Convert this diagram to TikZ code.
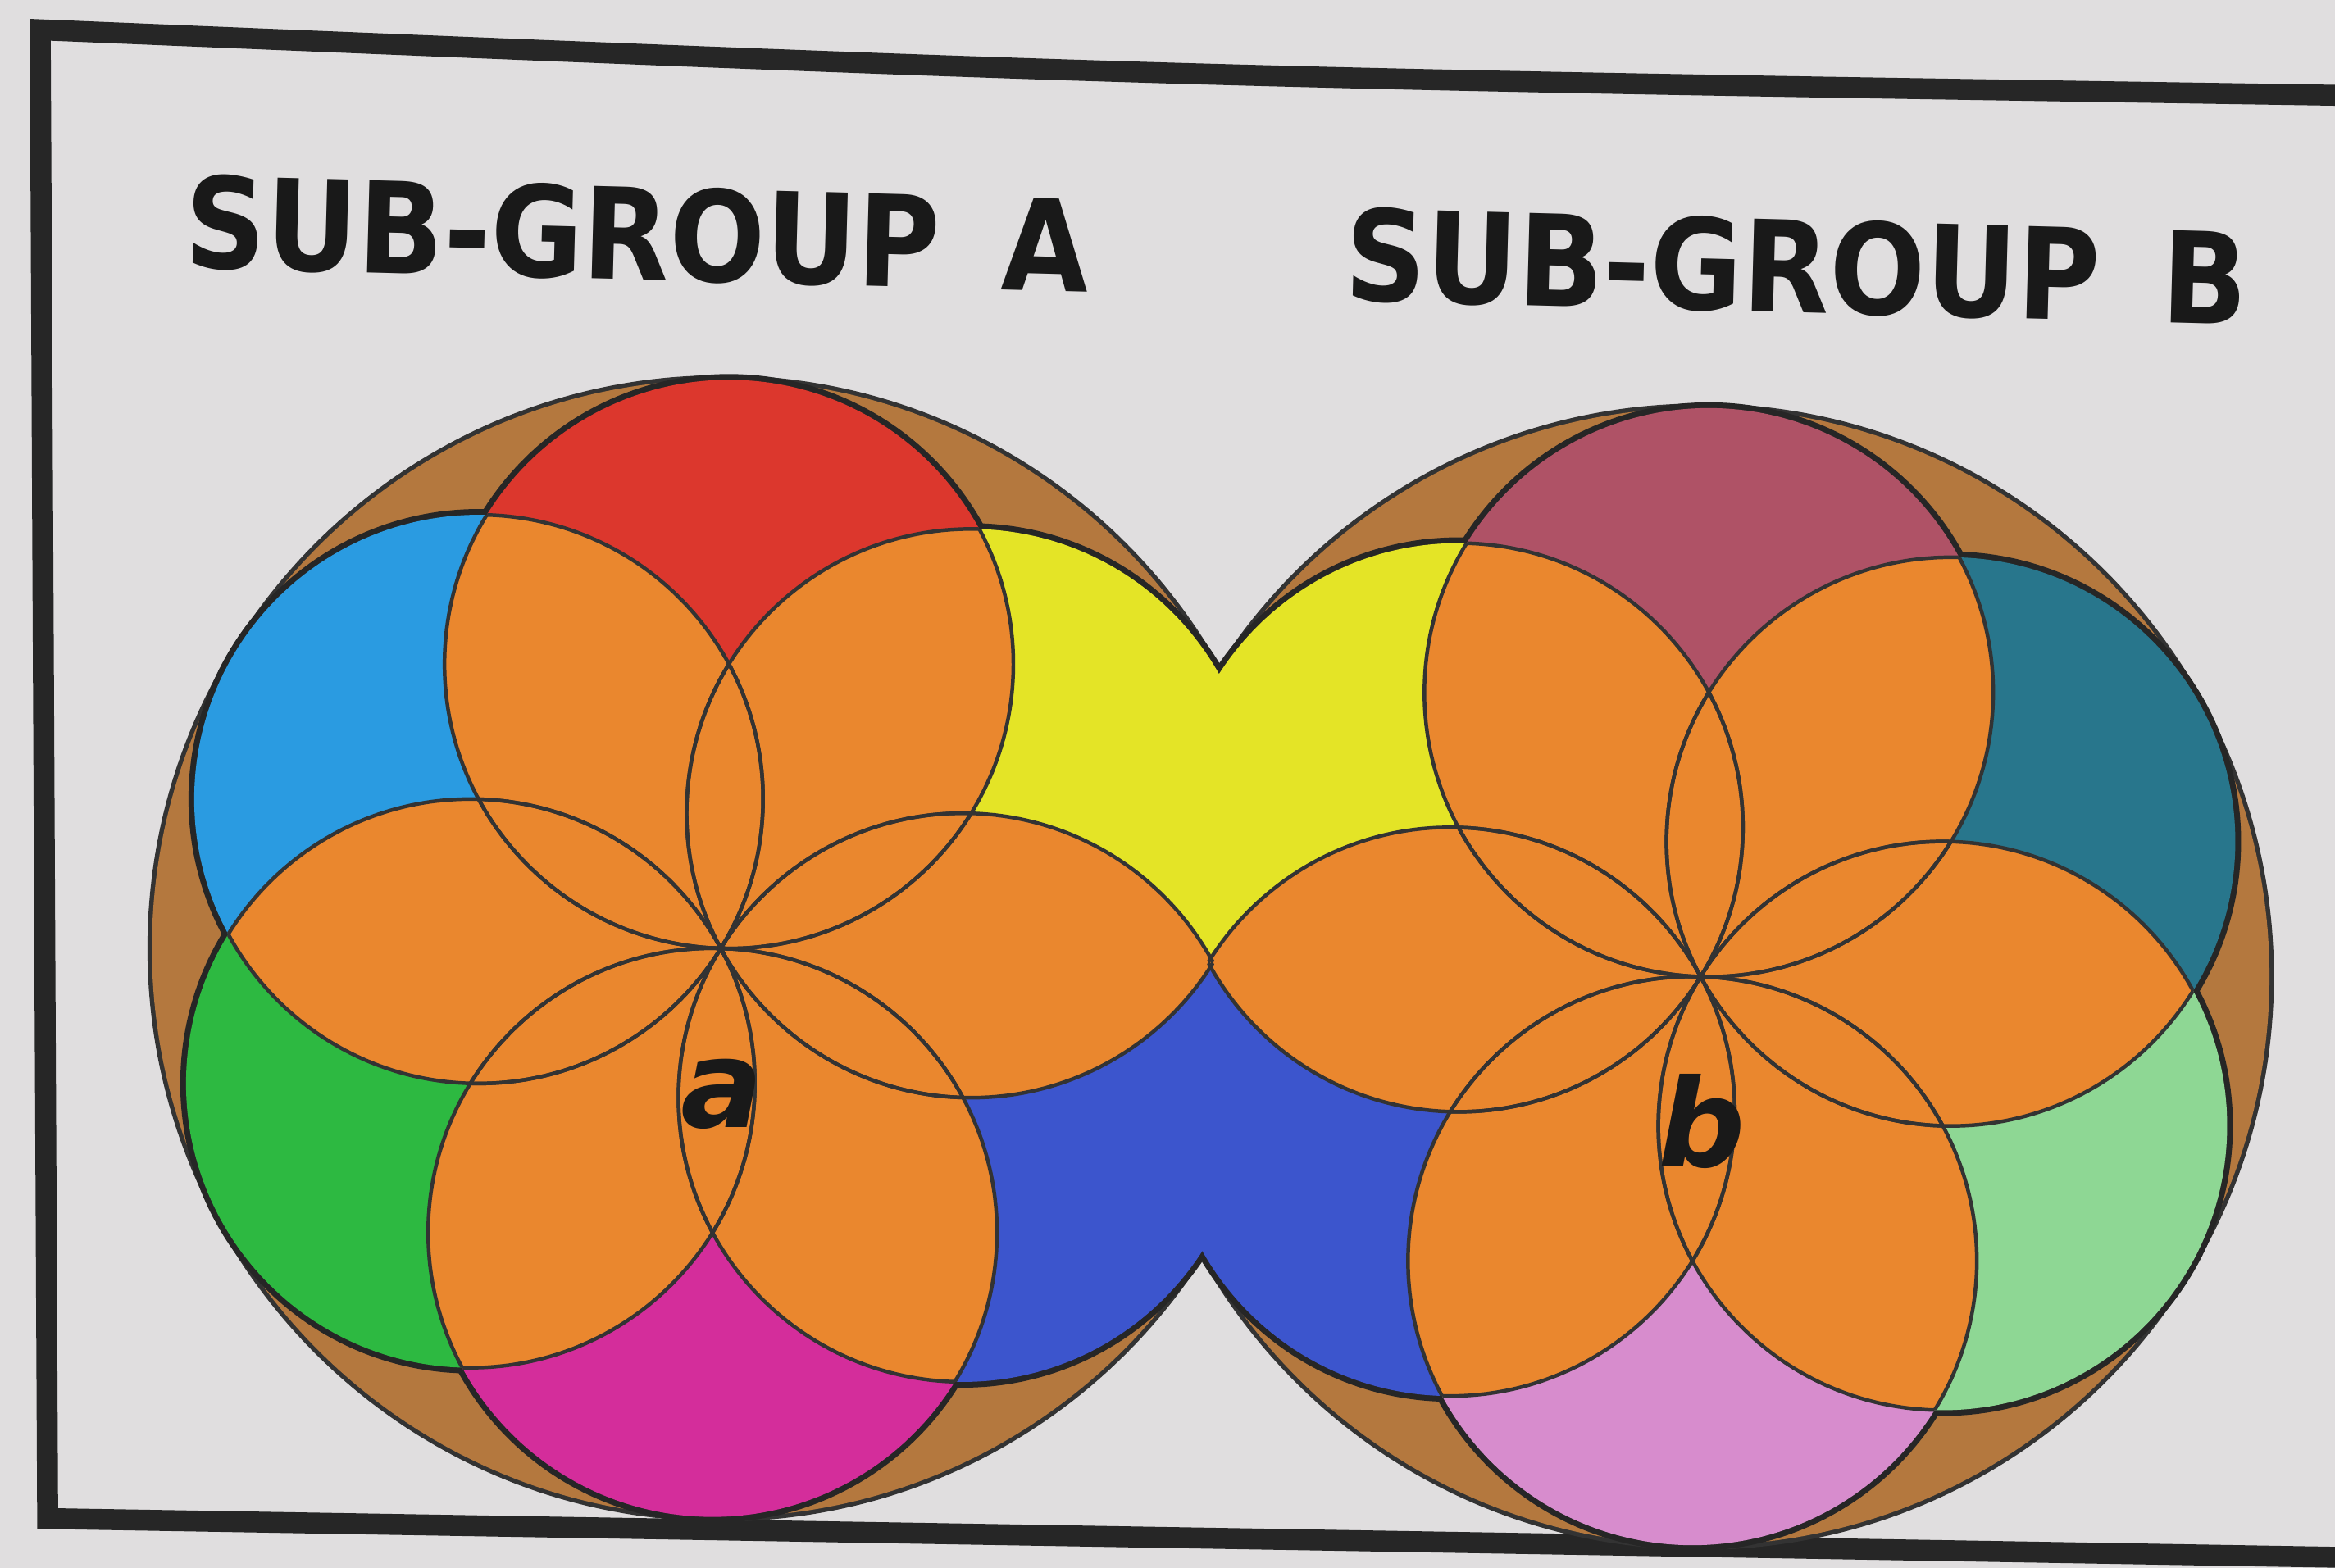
\documentclass[tikz,border=0pt]{standalone}
\usepackage{fontspec}
\setsansfont{DejaVu Sans}
\definecolor{PaperGray}{RGB}{224,222,223}
\definecolor{RimBrown}{RGB}{180,120,62}
\definecolor{PetalOrange}{RGB}{234,135,46}
\definecolor{ArcRed}{RGB}{220,55,45}
\definecolor{ArcSky}{RGB}{42,155,225}
\definecolor{ArcGreen}{RGB}{45,185,65}
\definecolor{ArcMagenta}{RGB}{212,45,155}
\definecolor{ArcYellow}{RGB}{228,228,38}
\definecolor{ArcBlue}{RGB}{60,85,205}
\definecolor{ArcMauve}{RGB}{175,82,102}
\definecolor{ArcTeal}{RGB}{40,118,140}
\definecolor{ArcMint}{RGB}{142,215,148}
\definecolor{ArcPink}{RGB}{215,140,205}

\begin{document}
\begin{tikzpicture}[x=0.01cm, y=0.01cm, line join=round,
  frame/.style={line width=4pt, draw=black!85, line join=miter},
  rim/.style={line width=1.7pt, draw=black!80},
  ringedge/.style={line width=2.2pt, draw=black!85},
  petalline/.style={line width=0.7pt, draw=black!80},
  title/.style={inner sep=0pt, anchor=base west, rotate=-1.5, xscale=0.89, text=black!90, font=\sffamily\bfseries\fontsize{24.2pt}{29pt}\selectfont},
  tag/.style={inner sep=0pt, text=black!90, font=\sffamily\bfseries\itshape\fontsize{23.3pt}{28pt}\selectfont}]
\useasboundingbox (0,0) rectangle (1568,1053);
\fill[PaperGray] (0,0) rectangle (1568,1053);

% frame of the plate
\draw[frame] (1568,989) .. controls (802,1001) .. (27,1033) -- (32,33) -- (1568,7);

\node[title] (titleA) at (123,873) {SUB-GROUP\hspace{0.55em}A};
\node[title] (titleB) at (902,851) {SUB-GROUP\hspace{0.55em}B};

\coordinate (centreA) at (484,416);
\coordinate (centreB) at (1142,397);

% brown discs
\foreach \c in {centreA,centreB}
  \draw[rim] (\c) circle (382);
\foreach \c in {centreA,centreB}
  \fill[RimBrown] (\c) circle (382);

% six coloured circles round each centre
\foreach \c in {centreA,centreB}
  \foreach \ang in {30,90,...,330}
    \draw[ringedge, shift={(\c)}, rotate=-1.65] (\ang:191) circle (191);
\foreach \ang/\colA/\colB in {30/ArcYellow/ArcTeal, 90/ArcRed/ArcMauve, 150/ArcSky/ArcYellow, 210/ArcGreen/ArcBlue, 270/ArcMagenta/ArcPink, 330/ArcBlue/ArcMint} {
  \fill[\colA, shift={(centreA)}, rotate=-1.65] (\ang:191) circle (191);
  \fill[\colB, shift={(centreB)}, rotate=-1.65] (\ang:191) circle (191);
}

% orange petals where neighbours overlap
\foreach \c in {centreA,centreB}
  \foreach \ang in {30,90,...,330} {
    \pgfmathtruncatemacro\nxt{\ang+60}
    \begin{scope}[shift={(\c)}, rotate=-1.65]
      \clip (\ang:191) circle (191);
      \fill[PetalOrange] (\nxt:191) circle (191);
    \end{scope}
  }

% arcs inside the petals
\foreach \c in {centreA,centreB}
  \foreach \ang in {30,90,...,330}
    \foreach \other in {30,90,...,330} {
      \ifnum\ang=\other\else
      \begin{scope}[shift={(\c)}, rotate=-1.65]
        \clip (\other:191) circle (191);
        \draw[petalline] (\ang:191) circle (191);
      \end{scope}
      \fi
    }

\node[tag] (tagA) at (485,318) {a};
\node[tag] (tagB) at (1143,300) {b};
\end{tikzpicture}
\end{document}
